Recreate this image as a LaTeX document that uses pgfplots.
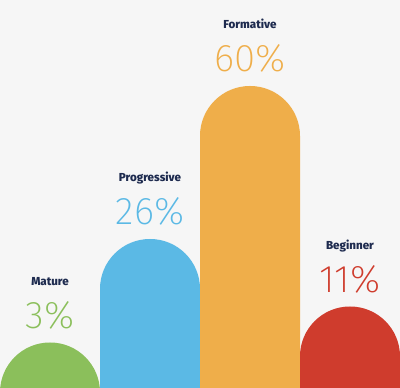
\documentclass[border=0pt]{standalone}
\usepackage{fontspec}
\setmainfont{Fira Sans}
\newfontfamily\pctfont{Fira Sans ExtraLight}
\newfontfamily\nmfont{Fira Sans ExtraBold}
\usepackage{pgfplots}
\pgfplotsset{compat=1.18}
\definecolor{bg}{HTML}{F6F6F6}
\definecolor{cgreen}{HTML}{8BBF5B}
\definecolor{cblue}{HTML}{5BB9E5}
\definecolor{corange}{HTML}{EFAE4A}
\definecolor{cred}{HTML}{CF3C2D}
\definecolor{navy}{HTML}{1E2B4F}
\tikzset{
  pct/.style={anchor=base, yshift=14bp, inner sep=0pt, font=\pctfont\fontsize{38.5bp}{40bp}\selectfont},
  nm/.style={anchor=base, yshift=57bp, inner sep=0pt, text=navy, font=\nmfont\fontsize{11.6bp}{13bp}\selectfont},
  pill/.style={draw=none, rounded corners=49.9bp},
}
\begin{document}
\begin{tikzpicture}
\begin{axis}[
  width=400bp, height=388bp, scale only axis,
  xmin=0, xmax=400, ymin=-7.1111, ymax=79.1111,
  axis lines=none, xtick=\empty, ytick=\empty,
  axis background/.style={fill=bg, draw=none},
]
% each bar: x from left to right edge, top at its value; the bottom lies below the visible area
\addplot[pill, fill=cgreen] coordinates {(0,-40) (0,3) (100,3) (100,-40)} -- cycle;
\addplot[pill, fill=cblue] coordinates {(100,-40) (100,26) (200,26) (200,-40)} -- cycle;
\addplot[pill, fill=corange] coordinates {(200,-40) (200,60) (300,60) (300,-40)} -- cycle;
\addplot[pill, fill=cred] coordinates {(300,-40) (300,11) (400,11) (400,-40)} -- cycle;
\node[pct, text=cgreen] at (axis cs:50,3) {3\%};
\node[nm] at (axis cs:50,3) {Mature};
\node[pct, text=cblue] at (axis cs:150,26) {26\%};
\node[nm] at (axis cs:150,26) {Progressive};
\node[pct, text=corange] at (axis cs:250,60) {60\%};
\node[nm] at (axis cs:250,60) {Formative};
\node[pct, text=cred] at (axis cs:350,11) {11\%};
\node[nm] at (axis cs:350,11) {Beginner};
\end{axis}
\end{tikzpicture}
\end{document}
